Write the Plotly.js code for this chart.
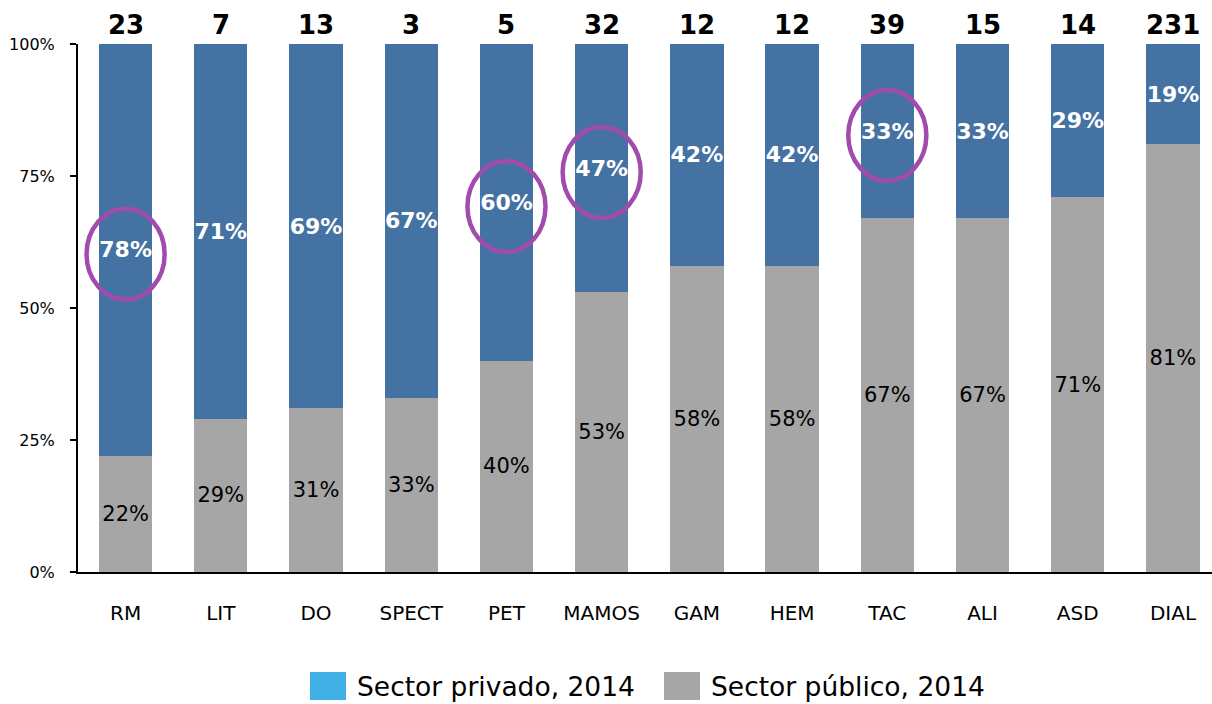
<!DOCTYPE html>
<html>
<head>
<meta charset="utf-8">
<script src="https://cdn.plot.ly/plotly-3.0.1.min.js"></script>
<style>html,body{margin:0;padding:0;background:#fff;}#chart{width:1212px;height:704px;}</style>
</head>
<body>
<div id="chart"></div>
<script>
const categories = ["RM","LIT","DO","SPECT","PET","MAMOS","GAM","HEM","TAC","ALI","ASD","DIAL"];
const publico = [22,29,31,33,40,53,58,58,67,67,71,81];
const privado = [78,71,69,67,60,47,42,42,33,33,29,19];
const totals = [23,7,13,3,5,32,12,12,39,15,14,231];
const highlighted = ["RM","PET","MAMOS","TAC"];
const yTicks = [0,25,50,75,100];
const yTickLabels = ["0%","25%","50%","75%","100%"];
const legendNames = ["Sector privado, 2014","Sector público, 2014"];

const FONT = "DejaVu Sans, Verdana, sans-serif";
const BLUE = "#4472A3", GRAY = "#A6A6A6", LEGBLUE = "#3FAFE4", PURPLE = "#A24BAE";

const traces = [
  {type:"bar", x:categories, y:publico, name:legendNames[1], marker:{color:GRAY},
   width:0.56, text:publico.map(v=>v+"%"), textposition:"inside", insidetextanchor:"middle",
   textangle:0, constraintext:"none", textfont:{family:FONT,size:21,color:"#000"},
   hoverinfo:"x+y", showlegend:false},
  {type:"bar", x:categories, y:privado, name:legendNames[0], marker:{color:BLUE},
   width:0.56, text:privado.map(v=>"<b>"+v+"%</b>"), textposition:"inside", insidetextanchor:"middle",
   textangle:0, constraintext:"none", textfont:{family:FONT,size:22,color:"#fff"},
   hoverinfo:"x+y", showlegend:false}
];

const annotations = categories.map((c,i)=>({
  x:c, y:100, xref:"x", yref:"y", yanchor:"bottom", yshift:2, showarrow:false,
  text:"<b>"+totals[i]+"</b>", font:{family:FONT,size:26,color:"#000"}
}));

const shapes = [];
highlighted.forEach(c=>{
  const i = categories.indexOf(c);
  const cy = publico[i] + privado[i]/2 - 0.8;
  shapes.push({type:"circle", xref:"x", yref:"y", x0:i-0.41, x1:i+0.41, y0:cy-8.6, y1:cy+8.6,
    line:{color:PURPLE,width:4.5}, fillcolor:"rgba(0,0,0,0)"});
});

// legend drawn in paper coords
const legItems = [{color:LEGBLUE,text:legendNames[0],x0:310},{color:GRAY,text:legendNames[1],x0:664}];
legItems.forEach(it=>{
  shapes.push({type:"rect", xref:"paper", yref:"paper",
    x0:(it.x0-78)/1134, x1:(it.x0+36-78)/1134, y0:-(700-572)/528, y1:-(672-572)/528,
    fillcolor:it.color, line:{width:0}});
  annotations.push({xref:"paper", yref:"paper", x:(it.x0+45-78)/1134, y:-(686-572)/528,
    xanchor:"left", yanchor:"middle", showarrow:false, text:it.text,
    font:{family:FONT,size:26.5,color:"#000"}});
});

const layout = {
  width:1212, height:704,
  margin:{l:78, r:0, t:44, b:132},
  paper_bgcolor:"#fff", plot_bgcolor:"#fff",
  barmode:"stack",
  showlegend:false,
  font:{family:FONT,color:"#000"},
  xaxis:{type:"category", range:[-0.5,11.41], showline:true, linecolor:"#000", linewidth:2,
    ticks:"", showgrid:false, tickfont:{family:FONT,size:20,color:"#000"}, ticklabelstandoff:22, fixedrange:true},
  yaxis:{range:[0,100], tickvals:yTicks, ticktext:yTickLabels, showline:true, linecolor:"#000", linewidth:2,
    ticks:"outside", ticklen:6, tickwidth:2, tickcolor:"#000", showgrid:false, zeroline:false,
    ticklabelstandoff:12, tickfont:{family:FONT,size:16,color:"#000"}, fixedrange:true},
  annotations:annotations,
  shapes:shapes
};

Plotly.newPlot("chart", traces, layout, {displayModeBar:false, staticPlot:true});
</script>
</body>
</html>
